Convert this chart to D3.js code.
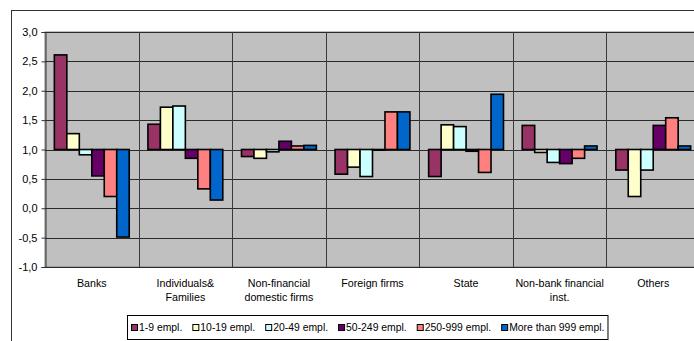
<!DOCTYPE html>
<html>
<head>
<meta charset="utf-8">
<script src="https://cdn.jsdelivr.net/npm/d3@7"></script>
<style>
  html, body { margin: 0; padding: 0; background: #fff; }
  svg { display: block; font-family: "Liberation Sans", Arial, sans-serif; }
</style>
</head>
<body>
<svg id="chart" width="694" height="341"></svg>
<script>
// Owner categories (line breaks mark the two-line labels)
const categories = [
  "Banks",
  "Individuals&\nFamilies",
  "Non-financial\ndomestic firms",
  "Foreign firms",
  "State",
  "Non-bank financial\ninst.",
  "Others"
];

// Firm-size series
const seriesNames = ["1-9 empl.", "10-19 empl.", "20-49 empl.", "50-249 empl.", "250-999 empl.", "More than 999 empl."];
const seriesColors = ["#993366", "#FFFFCC", "#CCFFFF", "#660066", "#FF8080", "#0066CC"];

// Values per series, one per category (index relative to 1,0)
const empl1_9     = [2.61, 1.43, 0.88, 0.58, 0.54, 1.41, 0.65];
const empl10_19   = [1.27, 1.72, 0.85, 0.70, 1.42, 0.95, 0.20];
const empl20_49   = [0.91, 1.74, 0.96, 0.54, 1.39, 0.78, 0.65];
const empl50_249  = [0.55, 0.85, 1.14, 0.99, 0.97, 0.76, 1.41];
const empl250_999 = [0.20, 0.33, 1.06, 1.64, 0.61, 0.85, 1.54];
const empl999plus = [-0.49, 0.14, 1.07, 1.64, 1.94, 1.06, 1.06];
const seriesValues = [empl1_9, empl10_19, empl20_49, empl50_249, empl250_999, empl999plus];

// Axis
const yTicks = [-1.0, -0.5, 0.0, 0.5, 1.0, 1.5, 2.0, 2.5, 3.0];
const yBase = 1.0;

const svg = d3.select("#chart");
const fmt = v => d3.format(".1f")(v).replace(".", ",").replace("−", "-");

// Chart frame
svg.append("rect")
  .attr("x", 11.5).attr("y", 10.5)
  .attr("width", 720).attr("height", 360)
  .attr("fill", "#fff").attr("stroke", "#333").attr("stroke-width", 1);

const plot = { left: 45, top: 32, right: 700, bottom: 267 };

const x0 = d3.scaleBand()
  .domain(categories)
  .range([plot.left, plot.right])
  .paddingInner(0).paddingOuter(0);

const x1 = d3.scaleBand()
  .domain(d3.range(seriesNames.length))
  .range([0, x0.bandwidth()])
  .paddingInner(0).paddingOuter(0.75);

const y = d3.scaleLinear().domain([-1, 3]).range([plot.bottom, plot.top]);

// Plot area
svg.append("rect")
  .attr("x", plot.left).attr("y", plot.top)
  .attr("width", plot.right - plot.left).attr("height", plot.bottom - plot.top)
  .attr("fill", "#C0C0C0").attr("stroke", "#808080").attr("stroke-width", 1);

// Horizontal gridlines
svg.append("g").selectAll("line")
  .data(yTicks)
  .join("line")
  .attr("x1", plot.left).attr("x2", plot.right)
  .attr("y1", d => Math.round(y(d)) + 0.5).attr("y2", d => Math.round(y(d)) + 0.5)
  .attr("stroke", "#2a2a2a").attr("stroke-width", 1);

// Category separators
svg.append("g").selectAll("line")
  .data(categories.slice(1))
  .join("line")
  .attr("x1", d => Math.round(x0(d)) + 0.5).attr("x2", d => Math.round(x0(d)) + 0.5)
  .attr("y1", plot.top).attr("y2", plot.bottom)
  .attr("stroke", "#3a3a3a").attr("stroke-width", 1);

// Y axis
const yAxis = d3.axisLeft(y).tickValues(yTicks).tickSize(4).tickPadding(4).tickFormat(fmt);
const gy = svg.append("g")
  .attr("transform", `translate(${plot.left + 0.5},0)`)
  .call(yAxis);
gy.select(".domain").attr("stroke", "#333");
gy.selectAll(".tick line").attr("stroke", "#333");
gy.selectAll(".tick text")
  .attr("font-size", 11).attr("fill", "#000")
  .attr("font-family", "Liberation Sans, Arial, sans-serif");

// Bars, drawn from the 1,0 baseline
const groups = svg.append("g").selectAll("g")
  .data(categories)
  .join("g")
  .attr("transform", d => `translate(${x0(d)},0)`);

groups.selectAll("rect")
  .data((c, ci) => seriesValues.map((vals, si) => ({ si, v: vals[ci] })))
  .join("rect")
  .attr("x", d => x1(d.si))
  .attr("width", x1.bandwidth())
  .attr("y", d => Math.min(y(d.v), y(yBase)))
  .attr("height", d => Math.abs(y(d.v) - y(yBase)))
  .attr("fill", d => seriesColors[d.si])
  .attr("stroke", "#000").attr("stroke-width", 1.6);

// Category labels
const xl = svg.append("g").selectAll("text")
  .data(categories)
  .join("text")
  .attr("x", d => x0(d) + x0.bandwidth() / 2)
  .attr("y", 287)
  .attr("text-anchor", "middle")
  .attr("font-size", 10.7).attr("fill", "#000");
xl.selectAll("tspan")
  .data(d => d.split("\n"))
  .join("tspan")
  .attr("x", function () { return this.parentNode.getAttribute("x"); })
  .attr("dy", (d, i) => i === 0 ? 0 : 14)
  .text(d => d);

// Legend
const legend = svg.append("g");
const legendBox = legend.append("rect")
  .attr("x", 127.5).attr("y", 315.5).attr("height", 24)
  .attr("fill", "#fff").attr("stroke", "#000").attr("stroke-width", 1);
let lx = 131;
seriesNames.forEach((name, i) => {
  legend.append("rect")
    .attr("x", lx + 0.5).attr("y", 324.5).attr("width", 6).attr("height", 6)
    .attr("fill", seriesColors[i]).attr("stroke", "#000").attr("stroke-width", 1);
  const t = legend.append("text")
    .attr("x", lx + 8).attr("y", 331)
    .attr("font-size", 10.4).attr("fill", "#000")
    .text(name);
  lx += 8 + t.node().getComputedTextLength() + 10;
});
legendBox.attr("width", lx - 10 + 3 - 127);
</script>
</body>
</html>
